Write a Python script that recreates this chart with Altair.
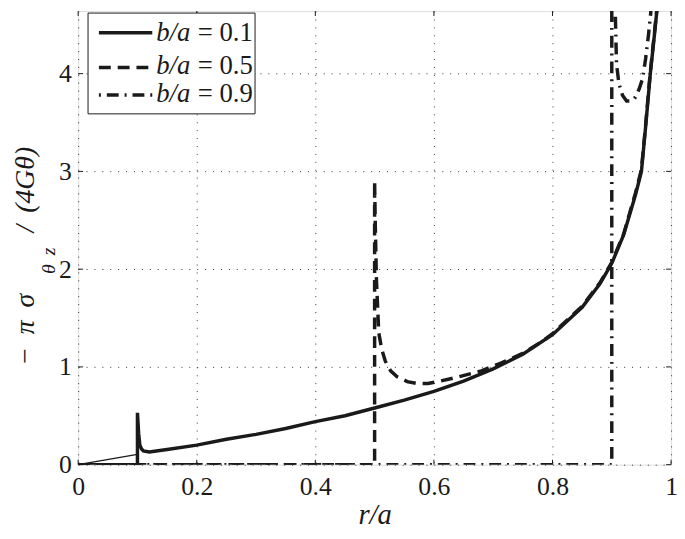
import altair as alt
import pandas as pd

# ---------------- data ----------------
# b/a = 0.1 (solid)
r01 = [0, 0.1, 0.1, 0.102, 0.104, 0.107, 0.11, 0.12, 0.15, 0.2, 0.25, 0.3, 0.35,
       0.4, 0.45, 0.5, 0.55, 0.6, 0.65, 0.7, 0.75, 0.8, 0.85, 0.88, 0.9, 0.92,
       0.94, 0.95, 0.957, 0.965, 0.972, 0.977, 0.985]
v01 = [0, 0, 0.53, 0.32, 0.2, 0.16, 0.14, 0.13, 0.155, 0.2, 0.26, 0.31, 0.37,
       0.44, 0.5, 0.58, 0.66, 0.75, 0.855, 0.98, 1.13, 1.33, 1.61, 1.85, 2.06, 2.35,
       2.76, 3.0, 3.45, 4.0, 4.4, 4.7, 5.3]

# b/a = 0.5 (dashed)
r05 = [0, 0.5, 0.5, 0.501, 0.503, 0.507, 0.512, 0.518, 0.527, 0.538, 0.555, 0.572,
       0.59, 0.607, 0.643, 0.68, 0.713, 0.747, 0.78, 0.8, 0.85, 0.88, 0.9, 0.92,
       0.94, 0.95, 0.957, 0.965, 0.972, 0.977, 0.985]
v05 = [0, 0, 2.9, 2.5, 1.9, 1.35, 1.18, 1.06, 0.96, 0.9, 0.85, 0.83,
       0.83, 0.85, 0.9, 0.96, 1.04, 1.13, 1.25, 1.34, 1.62, 1.86, 2.07, 2.36,
       2.78, 3.02, 3.47, 4.02, 4.42, 4.72, 5.3]

# b/a = 0.9 (dash-dot)
r09 = [0, 0.9, 0.9, 0.904, 0.906, 0.908, 0.912, 0.918, 0.925, 0.933, 0.94, 0.946,
       0.952, 0.957, 0.962, 0.967, 0.972]
v09 = [0, 0, 5.2, 5.2, 4.6, 4.1, 3.9, 3.78, 3.72, 3.72, 3.76, 3.84,
       3.95, 4.15, 4.4, 4.7, 5.1]

# thin reference line near the origin
r_thin = [0, 0.1]
v_thin = [0, 0.105]

x_ticks = [0, 0.2, 0.4, 0.6, 0.8, 1]
y_ticks = [0, 1, 2, 3, 4]
legend_values = ["0.1", "0.5", "0.9"]

# ---------------- chart ----------------
W, H = 600, 459
FONT = "Liberation Serif, Times New Roman, DejaVu Serif, serif"
INK = "#1a1a1a"

xs = alt.Scale(domain=[0, 1], nice=False, zero=False)
ys = alt.Scale(domain=[0, 4.64], nice=False, zero=False)

xaxis = alt.Axis(values=x_ticks, format="~g", grid=True, gridDash=[1, 7],
                 gridColor="#333", gridWidth=1, ticks=False, domain=False,
                 labelFont=FONT, labelFontSize=26, labelColor=INK, labelPadding=9,
                 labelFlush=False, title="r/a", titleFont=FONT, titleFontSize=29,
                 titleFontStyle="italic", titleFontWeight="normal", titleColor=INK,
                 titleBaseline="alphabetic", titleY=60)
yaxis = alt.Axis(values=y_ticks, format="d", grid=True, gridDash=[1, 7],
                 gridColor="#333", gridWidth=1, ticks=False, domain=False,
                 labelFont=FONT, labelFontSize=26, labelColor=INK, labelPadding=7,
                 labelFlush=False, title=None)


def curve(rs, vs, dash=None, width=3.5):
    df = pd.DataFrame({"r": rs, "v": vs, "i": list(range(len(rs)))})
    kw = dict(color=INK, strokeWidth=width, clip=True, strokeCap="butt")
    if dash is not None:
        kw["strokeDash"] = dash
    return alt.Chart(df).mark_line(**kw).encode(
        x=alt.X("r:Q", scale=xs, axis=xaxis),
        y=alt.Y("v:Q", scale=ys, axis=yaxis),
        order="i:Q",
    )


layers = [
    curve(r_thin, v_thin, width=1.2),
    curve(r09, v09, dash=[12, 6, 2, 6]),
    curve(r05, v05, dash=[12, 7]),
    curve(r01, v01),
]

# inward ticks on all four sides
xt = pd.DataFrame({"r": x_ticks})
yt = pd.DataFrame({"v": y_ticks})
tick_kw = dict(color=INK, strokeWidth=1)
layers += [
    alt.Chart(xt).mark_rule(**tick_kw).encode(x=alt.X("r:Q", scale=xs, axis=xaxis), y=alt.value(H), y2=alt.value(H - 5)),
    alt.Chart(xt).mark_rule(**tick_kw).encode(x=alt.X("r:Q", scale=xs, axis=xaxis), y=alt.value(0), y2=alt.value(5)),
    alt.Chart(yt).mark_rule(**tick_kw).encode(y=alt.Y("v:Q", scale=ys, axis=yaxis), x=alt.value(0), x2=alt.value(5)),
    alt.Chart(yt).mark_rule(**tick_kw).encode(y=alt.Y("v:Q", scale=ys, axis=yaxis), x=alt.value(W), x2=alt.value(W - 5)),
]

# legend box
one = pd.DataFrame({"a": [0]})
layers.append(
    alt.Chart(one).mark_rect(fill="white", stroke=INK, strokeWidth=1).encode(
        x=alt.value(10), x2=alt.value(179), y=alt.value(2), y2=alt.value(104))
)
row_line_y = [22, 57, 85]
row_text_y = [30, 64, 92]
dashes = [None, [12, 7], [2, 6, 12, 6]]
for k, val in enumerate(legend_values):
    kw = dict(color=INK, strokeWidth=3.5, strokeCap="butt")
    if dashes[k] is not None:
        kw["strokeDash"] = dashes[k]
    layers.append(alt.Chart(one).mark_rule(**kw).encode(
        x=alt.value(21), x2=alt.value(75), y=alt.value(row_line_y[k])))
    layers.append(alt.Chart(one).mark_text(
        text="b/a", font=FONT, fontSize=27, fontStyle="italic", color=INK,
        align="left", baseline="alphabetic").encode(
        x=alt.value(79), y=alt.value(row_text_y[k])))
    layers.append(alt.Chart(one).mark_text(
        text="= " + val, font=FONT, fontSize=27, color=INK,
        align="left", baseline="alphabetic").encode(
        x=alt.value(121), y=alt.value(row_text_y[k])))

# y-axis title, rotated: -π σ_{θz} / (4Gθ)
ytitle_parts = [
    ("\u2212", 359, -45, 28),
    ("\u03c0", 327, -45, 28),
    ("\u03c3", 300, -45, 28),
    ("\u03b8", 266, -23, 20),
    ("z", 247, -23, 20),
    ("/", 224, -45, 28),
    ("(4G\u03b8)", 204, -45, 28),
]
for txt, yy, xx, fs in ytitle_parts:
    layers.append(alt.Chart(one).mark_text(
        text=txt, font=FONT, fontSize=fs, fontStyle="italic", color=INK,
        angle=270, align="left", baseline="alphabetic").encode(
        x=alt.value(xx), y=alt.value(yy)))

chart = alt.layer(*layers).properties(
    width=W, height=H,
    autosize=alt.AutoSizeParams(type="none"),
    padding={"left": 71, "top": 0, "right": 6, "bottom": 64},
).configure_view(stroke=INK, strokeWidth=1.5).configure(background="white")

chart.save("out.html", embed_options={"renderer": "svg", "actions": False})
